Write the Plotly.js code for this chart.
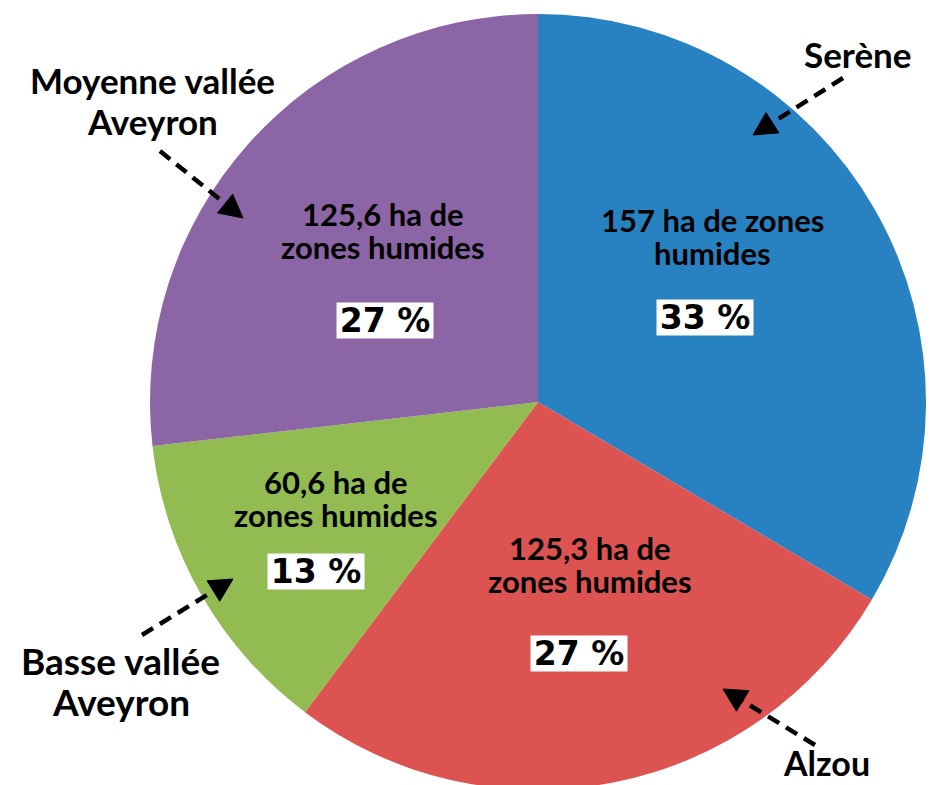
<!DOCTYPE html>
<html>
<head>
<meta charset="utf-8">
<script src="https://cdn.plot.ly/plotly-3.0.1.min.js"></script>
<style>
  html, body { margin: 0; padding: 0; overflow: hidden; background: #fff; }
  #chart { width: 940px; height: 800px; }
</style>
</head>
<body>
<div id="chart"></div>
<script>
// ---- data ----
const regions = ['Serène', 'Alzou', 'Basse vallée Aveyron', 'Moyenne vallée Aveyron'];
const areas = [157, 125.3, 60.6, 125.6];
const areaLabels = ['157 ha de zones<br>humides', '125,3 ha de<br>zones humides', '60,6 ha de<br>zones humides', '125,6 ha de<br>zones humides'];
const pctLabels = ['33 %', '27 %', '13 %', '27 %'];
const outerLabels = ['Serène', 'Alzou', 'Basse vallée<br>Aveyron', 'Moyenne vallée<br>Aveyron'];
const colors = ['#2882c2', '#dd5351', '#92bc52', '#8b65a5'];

// ---- layout helpers (pixel -> paper) ----
const W = 940, H = 800;
const px = x => x / W;
const py = y => 1 - y / H;

// pie geometry
const cx = 538, cy = 402, R = 388;

// annotation positions (px)
const areaPos = [[712, 236], [590, 564], [336, 498], [383, 231]];
const pctPos = [[705, 317], [579, 653], [316, 571], [385, 320]];
const outerPos = [[858, 54], [826, 762], [121, 681], [152, 100]];
const outerSize = [35, 34, 37, 35];
// arrows: [startX, startY, tipX, tipY]
const arrows = [[843, 78, 753, 135], [815, 745, 723, 689], [142, 635, 233, 579], [160, 151, 243, 218]];

const annotations = [];
const shapes = [];

function addLines(text, cxp, cyp, spacing, font) {
  const lines = text.split('<br>');
  const n = lines.length;
  lines.forEach((ln, j) => {
    annotations.push({
      text: ln, xref: 'paper', yref: 'paper',
      x: px(cxp), y: py(cyp + (j - (n - 1) / 2) * spacing),
      xanchor: 'center', yanchor: 'middle', showarrow: false, align: 'center',
      font: font
    });
  });
}

areaLabels.forEach((t, i) => {
  addLines(t, areaPos[i][0], areaPos[i][1], 33,
    { family: 'Lato, sans-serif', size: 31, color: '#000', weight: 'bold' });
});
pctLabels.forEach((t, i) => {
  annotations.push({
    text: t, xref: 'paper', yref: 'paper', x: px(pctPos[i][0]), y: py(pctPos[i][1]),
    xanchor: 'center', yanchor: 'middle', showarrow: false,
    width: 96, height: 35, bgcolor: '#ffffff', borderpad: 0,
    font: { family: 'DejaVu Sans, sans-serif', size: 33, color: '#000', weight: 'bold' }
  });
});
outerLabels.forEach((t, i) => {
  addLines(t, outerPos[i][0], outerPos[i][1], 41,
    { family: 'Lato, sans-serif', size: outerSize[i], color: '#000', weight: 'bold' });
});

arrows.forEach(a => {
  const [x0, y0, x1, y1] = a;
  const dx = x1 - x0, dy = y1 - y0, L = Math.hypot(dx, dy);
  const ux = dx / L, uy = dy / L;
  const headL = 23, headW = 12;
  const bx = x1 - ux * headL, by = y1 - uy * headL;
  shapes.push({
    type: 'line', xref: 'paper', yref: 'paper',
    x0: px(x0), y0: py(y0), x1: px(bx + ux * 2), y1: py(by + uy * 2),
    line: { color: '#000', width: 4.5, dash: '13px,8px' }
  });
  const pxL = bx - uy * headW, pyL = by + ux * headW;
  const pxR = bx + uy * headW, pyR = by - ux * headW;
  shapes.push({
    type: 'path', xref: 'paper', yref: 'paper',
    path: `M ${px(x1)} ${py(y1)} L ${px(pxL)} ${py(pyL)} L ${px(pxR)} ${py(pyR)} Z`,
    fillcolor: '#000', line: { color: '#000', width: 1 }
  });
});

const trace = {
  type: 'pie',
  labels: regions,
  values: areas,
  sort: false,
  direction: 'clockwise',
  rotation: 0,
  textinfo: 'none',
  hoverinfo: 'label+value+percent',
  marker: { colors: colors, line: { width: 0 } },
  domain: { x: [px(cx - R), px(cx + R)], y: [py(cy + R), py(cy - R)] }
};

const layout = {
  width: W, height: H,
  margin: { l: 0, r: 0, t: 0, b: 0, pad: 0 },
  showlegend: false,
  paper_bgcolor: '#ffffff',
  annotations: annotations,
  shapes: shapes
};

Plotly.newPlot('chart', [trace], layout, { displayModeBar: false, staticPlot: true });
</script>
</body>
</html>
